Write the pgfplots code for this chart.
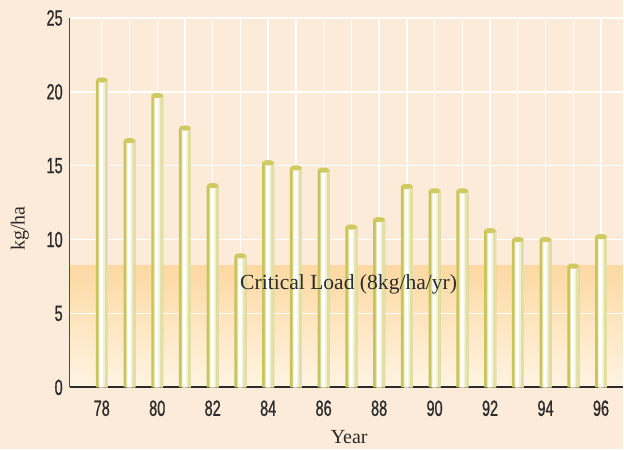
\documentclass[border=0pt]{standalone}
\usepackage{pgfplots}
\pgfplotsset{compat=1.18}
\usepackage{pgfplotstable}
\usepackage{fontspec}
\setmainfont{Liberation Serif}
\newfontfamily\condfont[FakeStretch=0.66,FakeBold=0.8]{Liberation Sans}
\definecolor{bg}{HTML}{FDEBDA}
\definecolor{bandtop}{HTML}{FDD8A2}
\definecolor{bandbot}{HTML}{FEF4E2}
\definecolor{olive}{HTML}{C8C35A}
\definecolor{olmid}{HTML}{DCD994}
\definecolor{olpale}{HTML}{F3F2D6}
\definecolor{lightol}{HTML}{E2E0A8}
\definecolor{capcol}{HTML}{CFCA62}
\definecolor{axisdark}{HTML}{2B2B2B}
\pgfdeclareplotmark{cap}{%
  \pgfpathellipse{\pgfpointorigin}{\pgfqpoint{6pt}{0pt}}{\pgfqpoint{0pt}{2.6pt}}%
  \pgfusepathqfill}
\pgfplotsset{
  layers/mylayers/.define layer set={bgpic,axis background,axis grid,axis ticks,axis lines,axis tick labels,pre main,main,axis descriptions,axis foreground}{},
}
\pgfplotstableread{
year val
78 20.8
79 16.7
80 19.75
81 17.55
82 13.65
83 8.9
84 15.2
85 14.85
86 14.7
87 10.85
88 11.35
89 13.6
90 13.3
91 13.3
92 10.6
93 10.0
94 10.0
95 8.2
96 10.2
}\datatable
\begin{document}
\begin{tikzpicture}
\begin{axis}[
  at={(0pt,0pt)}, anchor=south west,
  scale only axis, width=554pt, height=370pt,
  set layers=mylayers,
  xmin=76.85, xmax=96.79, ymin=0, ymax=25,
  axis lines*=left,
  x axis line style={line width=2.2pt, color=axisdark},
  y axis line style={line width=1pt, color=axisdark!85},
  xtick={78,80,...,96},
  minor xtick={79,81,...,95},
  ytick={0,5,...,25},
  xticklabels={78,80,82,84,86,88,90,92,94,96},
  major tick length=0pt, minor tick length=0pt,
  xmajorgrids, xminorgrids, ymajorgrids,
  grid style={white, line width=1.4pt},
  minor grid style={white, line width=1.4pt},
  /pgf/number format/assume math mode=true,
  ticklabel style={font=\condfont\fontsize{22}{22}\selectfont, text=axisdark, inner sep=0pt},
  yticklabel style={anchor=east, xshift=-7pt},
  xticklabel style={anchor=north, yshift=-13pt},
  xlabel={Year}, ylabel={kg/ha},
  label style={font=\fontsize{20}{20}\selectfont, text=axisdark},
  xlabel style={at={(axis description cs:0.505,-0.135)}, anchor=center},
  ylabel style={at={(axis description cs:-0.0903,0.43)}, anchor=center},
  clip=false,
]
\begin{pgfonlayer}{bgpic}
\fill[bg] (rel axis cs:-0.12636,-0.16757) rectangle (rel axis cs:1,1.04865);
\end{pgfonlayer}
\addplot[draw=none, fill=bandtop, top color=bandtop, bottom color=bandbot, on layer=axis background]
  coordinates {(76.85,8.25) (96.79,8.25)} \closedcycle;
\addplot[ybar, bar width=12pt, bar shift=0pt, draw=none, fill=olive]
  table[x=year, y=val] {\datatable};
\addplot[ybar, bar width=9.5pt, bar shift=1.25pt, draw=none, fill=olmid]
  table[x=year, y=val] {\datatable};
\addplot[ybar, bar width=2.2pt, bar shift=4.9pt, draw=none, fill=lightol]
  table[x=year, y=val] {\datatable};
\addplot[ybar, bar width=6pt, bar shift=0.2pt, draw=none, fill=olpale]
  table[x=year, y=val] {\datatable};
\addplot[ybar, bar width=3pt, bar shift=-0.3pt, draw=none, fill=white]
  table[x=year, y=val] {\datatable};
\addplot[only marks, mark=cap, mark options={fill=capcol, draw=none}]
  table[x=year, y=val] {\datatable};
\node[font=\fontsize{21.6}{21.6}\selectfont, text=axisdark] at (axis cs:86.9,7.0) {Critical Load (8kg/ha/yr)};
\end{axis}
\end{tikzpicture}
\end{document}
